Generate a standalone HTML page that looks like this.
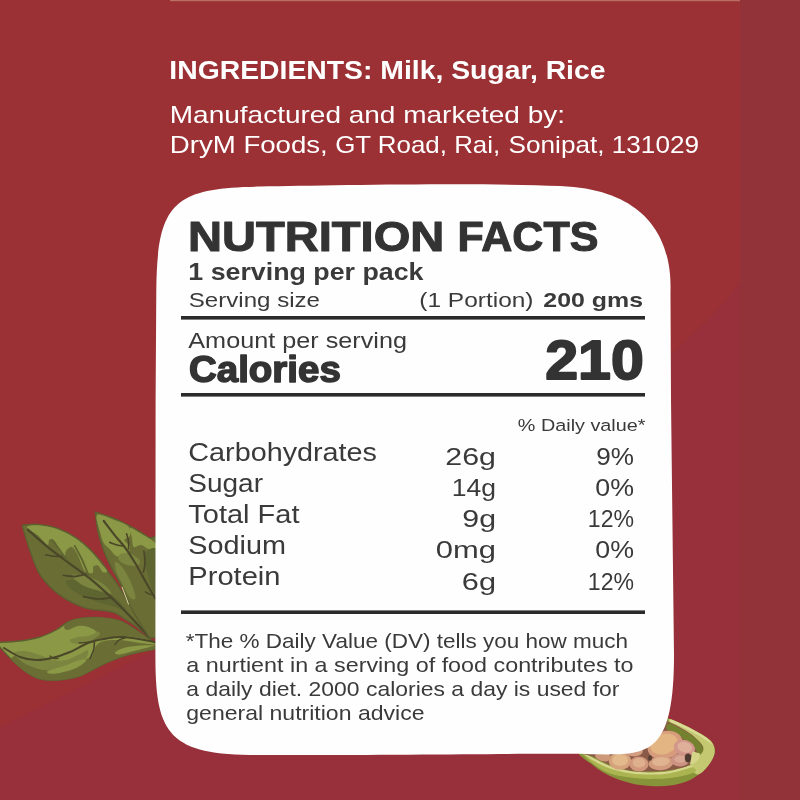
<!DOCTYPE html>
<html>
<head>
<meta charset="utf-8">
<title>Nutrition Facts</title>
<style>
html,body{margin:0;padding:0;width:800px;height:800px;overflow:hidden;background:#9b3134;}
svg{display:block;position:absolute;left:0;top:0;}
text{font-family:"Liberation Sans",sans-serif;}
.w{fill:#fff;}
.d{fill:#3a3a3a;}
.b{font-weight:bold;}
.h{font-weight:bold;stroke:#333;stroke-width:1.1px;fill:#333;stroke-linejoin:round;}
</style>
</head>
<body>
<svg width="800" height="800" viewBox="0 0 800 800">
  <!-- background -->
  <rect x="0" y="0" width="800" height="800" fill="#9b3134"/>
  <path d="M0,727.5 L155,650 L572,451 L671,354 Q712,319 740,283 L740,800 L0,800Z" fill="#97303b"/>
  <rect x="740" y="0" width="60" height="800" fill="#92333a"/>
  <rect x="170" y="0" width="570" height="1.2" fill="#bd6e64"/>

  <!-- leaves -->
  <g id="leaves">
    <path d="M-2.0,642.4 C1.7,642.2 13.0,641.9 20.0,641.0 C27.0,640.1 34.0,638.8 40.0,637.0 C46.0,635.2 51.3,632.5 56.0,630.0 C60.7,627.5 64.0,623.9 68.0,622.0 C72.0,620.1 74.7,619.1 80.0,618.4 C85.3,617.7 93.3,617.2 100.0,617.6 C106.7,618.0 114.0,618.9 120.0,621.0 C126.0,623.1 129.7,626.0 136.0,630.0 C142.3,634.0 154.3,642.5 158.0,645.0 L158.0,648.6 C155.0,649.2 145.7,650.8 140.0,652.0 C134.3,653.2 129.3,654.3 124.0,656.0 C118.7,657.7 112.7,660.0 108.0,662.0 C103.3,664.0 100.7,665.7 96.0,668.0 C91.3,670.3 86.0,674.0 80.0,676.0 C74.0,678.0 66.7,679.5 60.0,680.0 C53.3,680.5 45.7,680.3 40.0,679.0 C34.3,677.7 30.7,675.2 26.0,672.0 C21.3,668.8 16.7,664.5 12.0,660.0 C7.3,655.5 0.3,647.5 -2.0,645.0Z" fill="#8b9946" stroke="#5c6030" stroke-width="1.4" stroke-linecap="round" stroke-linejoin="round"/>
    <path d="M69.0,621.6 C71.7,620.2 74.8,619.1 80.0,618.4 C85.2,617.7 93.3,617.2 100.0,617.6 C106.7,618.0 114.0,618.9 120.0,621.0 C126.0,623.1 129.7,626.0 136.0,630.0 C142.3,634.0 154.3,642.8 158.0,645.0 C161.7,647.2 161.0,644.2 158.0,643.0 C155.0,641.8 145.7,639.1 140.0,638.0 C134.3,636.9 129.3,636.7 124.0,636.6 C118.7,636.5 112.7,636.9 108.0,637.6 C103.3,638.3 99.7,640.1 96.0,641.0 C92.3,641.9 89.0,642.8 86.0,643.0 C83.0,643.2 78.3,643.0 78.0,642.0 C77.7,641.0 81.3,638.7 84.0,637.0 C86.7,635.3 93.3,633.7 94.0,632.0 C94.7,630.3 90.7,628.0 88.0,627.0 C85.3,626.0 81.3,625.5 78.0,626.0 C74.7,626.5 70.3,629.8 68.0,630.0 C65.7,630.2 63.8,628.4 64.0,627.0 C64.2,625.6 66.3,623.0 69.0,621.6Z" fill="#6a6e35"/>
    <path d="M12.0,660.0 C13.7,662.7 21.3,668.8 26.0,672.0 C30.7,675.2 34.3,677.7 40.0,679.0 C45.7,680.3 53.3,680.5 60.0,680.0 C66.7,679.5 74.0,678.0 80.0,676.0 C86.0,674.0 91.3,670.3 96.0,668.0 C100.7,665.7 103.3,664.0 108.0,662.0 C112.7,660.0 118.7,657.7 124.0,656.0 C129.3,654.3 134.3,653.2 140.0,652.0 C145.7,650.8 155.0,649.8 158.0,648.6 C161.0,647.4 161.0,645.9 158.0,645.0 C155.0,644.1 146.3,643.8 140.0,643.0 C133.7,642.2 126.0,640.3 120.0,640.0 C114.0,639.7 108.0,640.0 104.0,641.0 C100.0,642.0 98.0,643.5 96.0,646.0 C94.0,648.5 94.0,653.7 92.0,656.0 C90.0,658.3 87.3,658.7 84.0,660.0 C80.7,661.3 76.0,662.8 72.0,664.0 C68.0,665.2 64.0,666.2 60.0,667.0 C56.0,667.8 52.0,669.0 48.0,669.0 C44.0,669.0 40.0,668.3 36.0,667.0 C32.0,665.7 27.3,662.8 24.0,661.0 C20.7,659.2 18.0,656.2 16.0,656.0 C14.0,655.8 10.3,657.3 12.0,660.0Z" fill="#6a6e35"/>
    <path d="M14.0,653.0 C14.7,651.5 19.7,650.7 24.0,651.0 C28.3,651.3 35.3,653.5 40.0,655.0 C44.7,656.5 47.7,659.2 52.0,660.0 C56.3,660.8 61.3,661.0 66.0,660.0 C70.7,659.0 76.3,655.7 80.0,654.0 C83.7,652.3 87.0,649.3 88.0,650.0 C89.0,650.7 88.0,655.7 86.0,658.0 C84.0,660.3 80.3,662.2 76.0,664.0 C71.7,665.8 65.3,668.0 60.0,669.0 C54.7,670.0 49.0,670.5 44.0,670.0 C39.0,669.5 34.0,667.7 30.0,666.0 C26.0,664.3 22.7,662.2 20.0,660.0 C17.3,657.8 13.3,654.5 14.0,653.0Z" fill="#7b853f"/>
    <path d="M48.0,671.0 C50.3,669.7 58.7,667.8 64.0,666.0 C69.3,664.2 76.3,660.8 80.0,660.0 C83.7,659.2 86.7,659.7 86.0,661.0 C85.3,662.3 80.3,666.0 76.0,668.0 C71.7,670.0 64.3,672.1 60.0,673.0 C55.7,673.9 52.0,673.9 50.0,673.6 C48.0,673.3 45.7,672.3 48.0,671.0Z" fill="#8b9946"/>
    <path d="M115.0,652.4 C115.8,651.3 119.8,649.1 124.0,648.0 C128.2,646.9 135.0,646.0 140.0,645.6 C145.0,645.2 154.0,644.9 154.0,645.6 C154.0,646.3 144.3,648.5 140.0,649.6 C135.7,650.7 131.5,651.6 128.0,652.4 C124.5,653.2 121.2,654.4 119.0,654.4 C116.8,654.4 114.2,653.5 115.0,652.4Z" fill="#8b9946"/>
    <path d="M70.0,640.0 C70.3,638.4 73.0,635.7 76.0,634.0 C79.0,632.3 84.0,630.2 88.0,630.0 C92.0,629.8 99.0,631.5 100.0,633.0 C101.0,634.5 96.7,637.3 94.0,639.0 C91.3,640.7 87.3,642.2 84.0,643.0 C80.7,643.8 76.3,644.1 74.0,643.6 C71.7,643.1 69.7,641.6 70.0,640.0Z" fill="#7b853f"/>
    <path d="M70.0,630.0 C72.3,628.6 76.7,626.7 80.0,626.4 C83.3,626.1 87.3,627.1 90.0,628.0 C92.7,628.9 96.3,630.7 96.0,632.0 C95.7,633.3 91.0,635.2 88.0,636.0 C85.0,636.8 81.0,636.5 78.0,637.0 C75.0,637.5 72.0,639.3 70.0,639.0 C68.0,638.7 66.0,636.5 66.0,635.0 C66.0,633.5 67.7,631.4 70.0,630.0Z" fill="#8b9946"/>
    <path d="M4.0,648.0 C6.7,649.5 14.7,655.0 20.0,657.0 C25.3,659.0 30.7,659.8 36.0,660.0 C41.3,660.2 46.3,659.3 52.0,658.0 C57.7,656.7 64.0,654.5 70.0,652.0 C76.0,649.5 82.3,645.2 88.0,643.0 C93.7,640.8 98.0,640.0 104.0,639.0 C110.0,638.0 115.0,636.4 124.0,637.0 C133.0,637.6 152.3,641.5 158.0,642.4" fill="none" stroke="#4b4729" stroke-width="2.0" stroke-linecap="round" stroke-linejoin="round"/>
    <path d="M94.4,642.0 C94.3,643.3 94.3,647.3 93.6,650.0 C92.9,652.7 90.6,657.0 90.0,658.4" fill="none" stroke="#4b4729" stroke-width="1.6" stroke-linecap="round" stroke-linejoin="round"/>
    <path d="M50.0,656.0 C50.6,656.4 52.3,658.0 53.6,658.4 C54.9,658.8 57.3,658.4 58.0,658.4" fill="none" stroke="#4b4729" stroke-width="1.4" stroke-linecap="round" stroke-linejoin="round"/>
    <path d="M79.0,643.0 C80.2,642.9 83.5,642.6 86.0,642.4 C88.5,642.2 92.7,641.7 94.0,641.6" fill="none" stroke="#4b4729" stroke-width="1.3" stroke-linecap="round" stroke-linejoin="round"/>
    <path d="M115.0,644.4 C115.7,643.7 117.3,641.1 119.0,640.0 C120.7,638.9 124.0,638.3 125.0,638.0" fill="none" stroke="#4b4729" stroke-width="1.4" stroke-linecap="round" stroke-linejoin="round"/>
    <path d="M22.2,525.3 C24.8,525.2 32.3,523.9 38.1,524.4 C43.9,524.8 50.6,525.9 56.9,528.1 C63.1,530.3 70.2,534.0 75.6,537.5 C81.1,541.0 85.3,544.9 89.7,549.1 C94.1,553.3 98.7,558.9 101.9,562.8 C105.1,566.8 106.3,568.9 109.0,572.8 C111.8,576.6 114.4,579.7 118.4,585.9 C122.3,592.0 127.6,601.0 132.8,609.7 C138.0,618.3 146.9,633.1 149.7,637.8 C147.7,636.1 141.4,630.5 137.5,627.5 C133.6,624.5 130.0,622.4 126.3,620.0 C122.5,617.6 118.8,614.4 115.0,612.9 C111.3,611.3 108.8,611.5 103.8,610.6 C98.8,609.8 91.3,609.7 85.0,607.8 C78.8,605.9 71.9,602.7 66.3,599.4 C60.6,596.1 55.9,592.8 51.3,588.1 C46.6,583.4 41.9,578.1 38.1,571.3 C34.4,564.4 31.4,554.5 28.8,546.9 C26.1,539.2 23.3,528.9 22.2,525.3Z" fill="#6a6e35" stroke="#5c6030" stroke-width="1.4" stroke-linecap="round" stroke-linejoin="round"/>
    <path d="M26.9,527.2 C26.9,525.5 33.1,525.0 38.1,525.3 C43.1,525.6 50.6,526.9 56.9,529.1 C63.1,531.3 70.2,534.9 75.6,538.4 C81.0,541.9 85.1,545.9 89.3,550.1 C93.6,554.2 98.2,559.9 101.1,563.4 C104.1,566.8 106.8,569.4 107.1,570.9 C107.4,572.3 104.3,573.1 102.8,572.2 C101.3,571.3 99.7,566.6 98.1,565.6 C96.6,564.7 94.4,565.3 93.4,566.6 C92.5,567.8 93.9,572.3 92.5,573.1 C91.1,573.9 86.9,572.8 85.0,571.3 C83.1,569.7 82.5,566.6 81.3,563.8 C80.0,560.9 79.1,557.2 77.5,554.4 C75.9,551.6 73.8,547.5 71.9,546.9 C70.0,546.3 67.5,549.1 66.3,550.6 C65.0,552.2 65.6,556.3 64.4,556.3 C63.1,556.3 60.3,553.1 58.8,550.6 C57.2,548.1 56.6,543.1 55.0,541.3 C53.4,539.4 50.6,538.8 49.4,539.4 C48.1,540.0 49.4,545.6 47.5,545.0 C45.6,544.4 41.6,538.6 38.1,535.6 C34.7,532.7 26.9,528.9 26.9,527.2Z" fill="#8b9946"/>
    <path d="M66.3,580.6 C68.1,579.4 75.9,579.4 81.3,580.6 C86.6,581.9 92.5,585.3 98.1,588.1 C103.8,590.9 110.3,593.8 115.0,597.5 C119.7,601.3 126.3,609.1 126.3,610.6 C126.3,612.2 119.7,608.3 115.0,606.9 C110.3,605.5 103.8,604.1 98.1,602.2 C92.5,600.3 85.9,598.0 81.3,595.6 C76.6,593.3 72.5,590.6 70.0,588.1 C67.5,585.6 64.4,581.9 66.3,580.6Z" fill="#5f6531"/>
    <path d="M71.9,575.0 C73.1,573.8 83.4,575.3 88.8,576.9 C94.1,578.4 100.0,581.6 103.8,584.4 C107.5,587.2 112.5,592.8 111.3,593.8 C110.0,594.7 101.3,591.6 96.3,590.0 C91.3,588.4 85.3,586.9 81.3,584.4 C77.2,581.9 70.6,576.3 71.9,575.0Z" fill="#7b853f"/>
    <path d="M27.8,529.6 C31.1,532.5 40.5,541.2 47.5,546.9 C54.5,552.6 62.5,558.1 70.0,563.8 C77.5,569.4 85.6,575.0 92.5,580.6 C99.4,586.3 105.0,591.6 111.3,597.5 C117.5,603.4 123.6,609.5 130.0,616.3 C136.4,623.0 146.4,634.2 149.7,637.8" fill="none" stroke="#4b4729" stroke-width="2.2" stroke-linecap="round" stroke-linejoin="round"/>
    <path d="M61.6,556.3 C60.3,556.3 56.7,556.5 54.1,556.3 C51.4,556.0 47.0,555.0 45.6,554.8" fill="none" stroke="#4b4729" stroke-width="1.6" stroke-linecap="round" stroke-linejoin="round"/>
    <path d="M85.9,574.1 C84.1,574.5 78.4,576.3 74.7,576.5 C70.9,576.7 65.3,575.6 63.4,575.4" fill="none" stroke="#4b4729" stroke-width="1.8" stroke-linecap="round" stroke-linejoin="round"/>
    <path d="M112.2,597.5 C109.8,597.8 102.9,599.2 98.1,599.0 C93.3,598.8 85.9,597.0 83.5,596.6" fill="none" stroke="#4b4729" stroke-width="1.6" stroke-linecap="round" stroke-linejoin="round"/>
    <path d="M66.3,559.6 C65.1,557.9 61.5,552.4 59.1,549.1 C56.8,545.8 53.3,541.3 52.2,539.8" fill="none" stroke="#5f6531" stroke-width="1.8" stroke-linecap="round" stroke-linejoin="round"/>
    <path d="M88.8,575.9 C87.7,573.3 84.5,565.0 82.2,560.0 C79.8,555.0 75.9,548.3 74.7,545.9" fill="none" stroke="#5f6531" stroke-width="1.8" stroke-linecap="round" stroke-linejoin="round"/>
    <path d="M95.3,512.2 C98.6,513.3 108.6,516.1 115.0,518.8 C121.4,521.4 128.1,525.0 133.8,528.1 C139.4,531.3 144.4,534.5 148.8,537.5 C153.1,540.5 158.1,529.2 160.0,545.9 C161.9,562.7 160.0,622.5 160.0,637.8 L149.7,637.8 C148.0,635.2 142.7,627.3 139.4,621.9 C136.1,616.4 133.1,611.3 130.0,605.0 C126.9,598.8 123.8,590.6 120.6,584.4 C117.5,578.1 114.1,573.1 111.3,567.5 C108.4,561.9 105.9,556.6 103.8,550.6 C101.6,544.7 99.5,538.3 98.1,531.9 C96.7,525.5 95.8,515.5 95.3,512.2Z" fill="#6a6e35" stroke="#5c6030" stroke-width="1.4" stroke-linecap="round" stroke-linejoin="round"/>
    <path d="M97.2,515.0 C99.7,513.1 109.8,518.4 115.0,520.3 C120.2,522.1 125.6,523.7 128.1,526.3 C130.6,528.8 130.6,533.3 130.0,535.6 C129.4,538.0 124.4,538.4 124.4,540.3 C124.4,542.2 129.7,544.5 130.0,546.9 C130.3,549.2 128.4,552.8 126.3,554.4 C124.1,555.9 119.7,557.2 116.9,556.3 C114.1,555.3 111.6,550.9 109.4,548.8 C107.2,546.6 105.3,545.9 103.8,543.1 C102.2,540.3 101.1,536.6 100.0,531.9 C98.9,527.2 94.7,516.9 97.2,515.0Z" fill="#8b9946"/>
    <path d="M130.0,528.1 C131.6,527.5 137.2,531.4 141.3,533.8 C145.3,536.1 151.6,539.7 154.4,542.2 C157.2,544.7 159.1,547.6 158.1,548.8 C157.2,549.9 151.6,549.8 148.8,549.1 C145.9,548.5 143.8,545.4 141.3,545.0 C138.8,544.6 135.3,548.1 133.8,546.9 C132.2,545.6 132.5,540.6 131.9,537.5 C131.3,534.4 128.4,528.8 130.0,528.1Z" fill="#8b9946"/>
    <path d="M119.7,554.4 C121.6,553.3 126.7,552.5 130.0,553.4 C133.3,554.4 138.1,558.0 139.4,560.0 C140.6,562.0 139.7,564.8 137.5,565.6 C135.3,566.4 129.4,565.6 126.3,564.7 C123.1,563.8 119.8,561.7 118.8,560.0 C117.7,558.3 117.8,555.5 119.7,554.4Z" fill="#7b853f"/>
    <path d="M115.0,561.9 C115.9,560.9 120.0,564.4 122.5,567.5 C125.0,570.6 127.8,575.6 130.0,580.6 C132.2,585.6 135.6,594.7 135.6,597.5 C135.6,600.3 132.2,599.7 130.0,597.5 C127.8,595.3 124.7,588.4 122.5,584.4 C120.3,580.3 118.1,576.9 116.9,573.1 C115.6,569.4 114.1,562.8 115.0,561.9Z" fill="#7b853f"/>
    <path d="M145.0,552.5 C147.3,550.6 155.6,543.8 158.1,550.6 C160.6,557.5 160.9,587.2 160.0,593.8 C159.1,600.3 154.5,593.1 152.5,590.0 C150.5,586.9 149.2,579.7 147.8,575.0 C146.4,570.3 144.5,565.6 144.1,561.9 C143.6,558.1 142.7,554.4 145.0,552.5Z" fill="#5f6531"/>
    <path d="M103.8,521.0 C105.6,523.4 111.4,531.2 115.0,535.6 C118.6,540.1 121.9,543.1 125.3,547.8 C128.8,552.5 132.3,558.3 135.6,563.8 C138.9,569.2 141.7,574.8 145.0,580.6 C148.3,586.4 153.6,595.5 155.3,598.4" fill="none" stroke="#4b4729" stroke-width="2.2" stroke-linecap="round" stroke-linejoin="round"/>
    <path d="M123.4,545.9 C122.3,545.8 119.2,545.6 116.9,545.0 C114.6,544.4 110.9,542.8 109.8,542.4" fill="none" stroke="#4b4729" stroke-width="1.7" stroke-linecap="round" stroke-linejoin="round"/>
    <path d="M128.5,549.1 C128.5,547.8 128.8,543.8 128.5,541.3 C128.2,538.7 126.9,535.0 126.6,533.8" fill="none" stroke="#4b4729" stroke-width="1.6" stroke-linecap="round" stroke-linejoin="round"/>
    <path d="M143.5,572.2 C143.8,570.5 144.9,565.4 145.0,561.9 C145.1,558.3 144.1,552.8 143.9,551.0" fill="none" stroke="#4b4729" stroke-width="1.6" stroke-linecap="round" stroke-linejoin="round"/>
    <path d="M154.4,595.3 C153.6,595.1 151.2,594.7 149.7,594.1 C148.2,593.6 146.1,592.3 145.4,591.9" fill="none" stroke="#4b4729" stroke-width="1.5" stroke-linecap="round" stroke-linejoin="round"/>
    <path d="M122.1,587.2 L128.5,604.1" fill="none" stroke="#d9cfa0" stroke-width="1.0" stroke-linecap="round" stroke-linejoin="round"/>
  </g>
  <!-- pod -->
  <g id="pod">
    <path d="M578.0,750.0 C575.3,754.3 588.7,761.7 594.0,766.0 C599.3,770.3 604.0,773.2 610.0,776.0 C616.0,778.8 623.3,781.3 630.0,783.0 C636.7,784.7 643.3,785.6 650.0,786.0 C656.7,786.4 663.3,786.6 670.0,785.6 C676.7,784.6 684.0,782.9 690.0,780.0 C696.0,777.1 701.9,772.3 706.0,768.0 C710.1,763.7 713.2,758.0 714.4,754.0 C715.6,750.0 714.4,746.8 713.0,744.0 C711.6,741.2 709.2,739.3 706.0,737.0 C702.8,734.7 698.0,732.2 694.0,730.0 C690.0,727.8 686.0,725.8 682.0,724.0 C678.0,722.2 674.0,720.3 670.0,719.0 C666.0,717.7 661.3,715.2 658.0,716.0 C654.7,716.8 658.0,720.0 650.0,724.0 C642.0,728.0 622.0,735.7 610.0,740.0 C598.0,744.3 580.7,745.7 578.0,750.0Z" fill="#87943a"/>
    <path d="M670.0,719.0 C672.0,719.3 678.0,722.2 682.0,724.0 C686.0,725.8 690.0,727.8 694.0,730.0 C698.0,732.2 702.8,734.7 706.0,737.0 C709.2,739.3 711.6,741.2 713.0,744.0 C714.4,746.8 715.2,750.3 714.4,754.0 C713.6,757.7 710.7,762.6 708.0,766.0 C705.3,769.4 701.0,774.2 698.0,774.4 C695.0,774.6 690.0,769.7 690.0,767.0 C690.0,764.3 695.7,761.2 698.0,758.0 C700.3,754.8 704.3,751.5 703.6,748.0 C702.9,744.5 697.6,740.2 694.0,737.0 C690.4,733.8 686.0,731.4 682.0,729.0 C678.0,726.6 672.0,724.1 670.0,722.4 C668.0,720.7 668.0,718.7 670.0,719.0Z" fill="#c4c870"/>
    <path d="M671.0,719.6 C672.8,720.0 678.2,722.6 682.0,724.4 C685.8,726.2 690.0,728.2 694.0,730.4 C698.0,732.6 702.9,735.3 706.0,737.6 C709.1,739.9 711.7,743.5 712.4,744.4 C713.1,745.3 712.4,744.6 710.0,743.0 C707.6,741.4 702.7,737.7 698.0,735.0 C693.3,732.3 686.5,729.2 682.0,727.0 C677.5,724.8 672.8,723.2 671.0,722.0 C669.2,720.8 669.2,719.2 671.0,719.6Z" fill="#dcdc98"/>
    <path d="M582.0,753.0 C582.3,752.3 591.3,757.7 596.0,760.0 C600.7,762.3 604.3,765.0 610.0,767.0 C615.7,769.0 623.3,770.9 630.0,772.0 C636.7,773.1 643.3,773.6 650.0,773.6 C656.7,773.6 663.3,773.1 670.0,772.0 C676.7,770.9 685.8,767.0 690.0,767.0 C694.2,767.0 697.7,770.2 695.0,772.0 C692.3,773.8 681.5,776.4 674.0,777.6 C666.5,778.8 657.3,779.0 650.0,779.0 C642.7,779.0 636.7,778.5 630.0,777.6 C623.3,776.7 616.0,775.8 610.0,773.6 C604.0,771.4 598.7,767.8 594.0,764.4 C589.3,761.0 581.7,753.7 582.0,753.0Z" fill="#aab450"/>
    <path d="M582.0,752.4 C582.2,752.0 591.3,756.9 596.0,759.2 C600.7,761.5 604.3,764.0 610.0,766.0 C615.7,768.0 623.3,769.9 630.0,771.0 C636.7,772.1 643.3,772.4 650.0,772.4 C656.7,772.4 663.3,772.1 670.0,771.0 C676.7,769.9 686.5,766.2 690.0,765.6 C693.5,765.0 694.1,766.3 690.8,767.6 C687.5,768.9 676.8,772.0 670.0,773.2 C663.2,774.4 656.7,774.6 650.0,774.6 C643.3,774.6 636.7,774.2 630.0,773.2 C623.3,772.2 615.8,770.3 610.0,768.4 C604.2,766.5 599.7,764.3 595.0,761.6 C590.3,758.9 581.8,752.8 582.0,752.4Z" fill="#d6d78c"/>
    <path d="M582.0,752.4 C581.0,754.6 589.3,754.9 594.0,757.0 C598.7,759.1 604.0,762.8 610.0,765.0 C616.0,767.2 623.3,769.3 630.0,770.4 C636.7,771.5 643.3,771.7 650.0,771.6 C656.7,771.5 663.3,771.2 670.0,770.0 C676.7,768.8 686.3,767.5 690.0,764.4 C693.7,761.3 690.7,753.4 692.4,751.6 C694.1,749.8 698.3,754.5 700.0,753.6 C701.7,752.7 703.8,749.3 702.8,746.4 C701.8,743.5 697.5,739.4 694.0,736.4 C690.5,733.4 686.0,730.7 682.0,728.4 C678.0,726.1 674.3,723.8 670.0,722.4 C665.7,721.0 662.7,718.7 656.0,720.0 C649.3,721.3 639.3,726.0 630.0,730.0 C620.7,734.0 608.0,740.3 600.0,744.0 C592.0,747.7 583.0,750.2 582.0,752.4Z" fill="#8a5a46"/>
    <path d="M668.8,723.6 C671.0,723.5 676.3,726.5 680.0,728.4 C683.7,730.3 687.8,732.5 691.2,735.0 C694.6,737.5 698.7,740.9 700.6,743.4 C702.5,745.9 703.0,748.2 702.8,750.0 C702.6,751.8 700.6,754.7 699.2,754.4 C697.8,754.1 696.7,750.3 694.4,748.0 C692.1,745.7 688.6,743.1 685.6,740.8 C682.6,738.5 679.3,735.9 676.2,734.0 C673.1,732.1 668.0,730.9 666.8,729.2 C665.6,727.5 666.6,723.7 668.8,723.6Z" fill="#74812f"/>
    <ellipse cx="665.0" cy="745.0" rx="18.0" ry="13.6" fill="#d79c7c" transform="rotate(-20 665.0 745.0)"/>
    <ellipse cx="664.0" cy="744.0" rx="14.0" ry="10.0" fill="#e2b582" transform="rotate(-20 664.0 744.0)"/>
    <ellipse cx="684.4" cy="748.0" rx="10.8" ry="8.0" fill="#d2978a" transform="rotate(15 684.4 748.0)"/>
    <ellipse cx="684.8" cy="747.2" rx="7.6" ry="5.2" fill="#deb09a" transform="rotate(15 684.8 747.2)"/>
    <ellipse cx="620.0" cy="761.0" rx="11.2" ry="8.8" fill="#d6a27c" transform="rotate(0 620.0 761.0)"/>
    <ellipse cx="620.0" cy="760.0" rx="8.0" ry="6.0" fill="#e2b98a" transform="rotate(0 620.0 760.0)"/>
    <ellipse cx="639.0" cy="764.0" rx="9.6" ry="7.6" fill="#d1987e" transform="rotate(0 639.0 764.0)"/>
    <ellipse cx="639.0" cy="762.8" rx="6.4" ry="4.8" fill="#deb08e" transform="rotate(0 639.0 762.8)"/>
    <ellipse cx="661.0" cy="763.0" rx="12.4" ry="7.2" fill="#d49c7e" transform="rotate(-5 661.0 763.0)"/>
    <ellipse cx="661.0" cy="761.6" rx="8.8" ry="4.4" fill="#e0b490" transform="rotate(-5 661.0 761.6)"/>
    <ellipse cx="680.0" cy="760.0" rx="9.2" ry="6.4" fill="#cd9382" transform="rotate(0 680.0 760.0)"/>
    <ellipse cx="680.4" cy="759.2" rx="6.0" ry="3.6" fill="#d9a894" transform="rotate(0 680.4 759.2)"/>
    <ellipse cx="603.0" cy="756.4" rx="8.0" ry="4.8" fill="#cd9878" transform="rotate(12 603.0 756.4)"/>
    <ellipse cx="634.0" cy="751.6" rx="8.8" ry="4.8" fill="#d29d80" transform="rotate(0 634.0 751.6)"/>
    <ellipse cx="688.0" cy="758.0" rx="3.2" ry="4.4" fill="#4d3a30" transform="rotate(0 688.0 758.0)"/>
    <ellipse cx="650.0" cy="758.0" rx="2.0" ry="2.8" fill="#5d4033" transform="rotate(0 650.0 758.0)"/>
    <path d="M692.4,751.6 C693.0,751.7 694.7,752.0 696.0,752.4 C697.3,752.8 699.7,752.7 700.0,754.0 C700.3,755.3 699.2,758.3 698.0,760.0 C696.8,761.7 694.3,763.3 693.0,764.0 C691.7,764.7 690.5,764.3 690.0,764.4Z" fill="#d5d58a"/>
  </g>

  <!-- card -->
  <path id="card" fill="#fefefe" d="M156.3,290 C157.2,203 173.5,187.5 260,186.6 C330,185.4 480,182.5 560,186 C678.4,190.7 670.35,280.1 670.5,295 L671,400 L674,655 C674,761.2 644.7,754.3 590,754.3 C540,752.8 400,755.5 250,755 C166.1,754.2 155.4,729.4 155.4,655 L155.6,400 Z"/>

  <!-- header text -->
  <text class="w b" x="169.3" y="79.3" font-size="26" textLength="436.2" lengthAdjust="spacingAndGlyphs">INGREDIENTS: Milk, Sugar, Rice</text>
  <text class="w" x="169.8" y="123" font-size="24.0" textLength="395.2" lengthAdjust="spacingAndGlyphs">Manufactured and marketed by:</text>
  <text class="w" y="152.6" font-size="24"><tspan x="169.8" textLength="158" lengthAdjust="spacingAndGlyphs">DryM Foods,</tspan> <tspan x="335.2" textLength="165" lengthAdjust="spacingAndGlyphs">GT Road, Rai,</tspan> <tspan x="508.6" textLength="190.4" lengthAdjust="spacingAndGlyphs">Sonipat, 131029</tspan></text>

  <!-- card text -->
  <text class="h" y="250.6" font-size="43"><tspan x="187.9" textLength="256.5" lengthAdjust="spacingAndGlyphs">NUTRITION</tspan> <tspan x="457.4" textLength="141" lengthAdjust="spacingAndGlyphs">FACTS</tspan></text>
  <text class="d b" x="188.3" y="280" font-size="24.0" textLength="235.2" lengthAdjust="spacingAndGlyphs">1 serving per pack</text>
  <text class="d" x="188.8" y="306.7" font-size="19.9" textLength="131.2" lengthAdjust="spacingAndGlyphs">Serving size</text>
  <text class="d" x="419.3" y="306.7" font-size="19.9" textLength="114.2" lengthAdjust="spacingAndGlyphs">(1 Portion)</text>
  <text class="d b" x="543.3" y="306.7" font-size="19.9" textLength="99.7" lengthAdjust="spacingAndGlyphs">200 gms</text>
  <rect x="181" y="316" width="464" height="3.6" fill="#2b2b2b"/>
  <text class="d" x="188.3" y="348" font-size="21.4" textLength="218.7" lengthAdjust="spacingAndGlyphs">Amount per serving</text>
  <text class="h" style="stroke-width:1.5px" x="189" y="381.7" font-size="36.3" textLength="151.8" lengthAdjust="spacingAndGlyphs">Calories</text>
  <text class="h" style="stroke-width:1.9px" x="545.2" y="379" font-size="55" textLength="98.6" lengthAdjust="spacingAndGlyphs">210</text>
  <rect x="181" y="393" width="464" height="3.6" fill="#2b2b2b"/>
  <text class="d" x="517.8" y="431" font-size="16.7" textLength="127.7" lengthAdjust="spacingAndGlyphs">% Daily value*</text>

  <text class="d" x="188.3" y="460.6" font-size="25.1" textLength="188.7" lengthAdjust="spacingAndGlyphs">Carbohydrates</text>
  <text class="d" x="188.3" y="491.9" font-size="25.1" textLength="74.7" lengthAdjust="spacingAndGlyphs">Sugar</text>
  <text class="d" x="188.3" y="523" font-size="25.1" textLength="111.2" lengthAdjust="spacingAndGlyphs">Total Fat</text>
  <text class="d" x="188.3" y="553.8" font-size="25.1" textLength="97.7" lengthAdjust="spacingAndGlyphs">Sodium</text>
  <text class="d" x="188.3" y="585" font-size="25.1" textLength="92.2" lengthAdjust="spacingAndGlyphs">Protein</text>

  <text class="d" x="445.3" y="464.7" font-size="24.6" textLength="50.7" lengthAdjust="spacingAndGlyphs">26g</text>
  <text class="d" x="451.8" y="496" font-size="24.6" textLength="44.2" lengthAdjust="spacingAndGlyphs">14g</text>
  <text class="d" x="462.3" y="527" font-size="24.6" textLength="33.7" lengthAdjust="spacingAndGlyphs">9g</text>
  <text class="d" x="435.8" y="558.4" font-size="24.6" textLength="60.2" lengthAdjust="spacingAndGlyphs">0mg</text>
  <text class="d" x="461.8" y="589.7" font-size="24.6" textLength="34.2" lengthAdjust="spacingAndGlyphs">6g</text>

  <text class="d" x="596.3" y="464.7" font-size="24.6" textLength="37.7" lengthAdjust="spacingAndGlyphs">9%</text>
  <text class="d" x="595.3" y="496" font-size="24.6" textLength="38.7" lengthAdjust="spacingAndGlyphs">0%</text>
  <text class="d" x="587.8" y="527" font-size="24.6" textLength="46.2" lengthAdjust="spacingAndGlyphs">12%</text>
  <text class="d" x="595.3" y="558.4" font-size="24.6" textLength="38.7" lengthAdjust="spacingAndGlyphs">0%</text>
  <text class="d" x="587.8" y="589.7" font-size="24.6" textLength="46.2" lengthAdjust="spacingAndGlyphs">12%</text>

  <rect x="181" y="610.4" width="464" height="3.6" fill="#2b2b2b"/>

  <text class="d" x="185.8" y="647.5" font-size="20.3" textLength="442.2" lengthAdjust="spacingAndGlyphs">*The % Daily Value (DV) tells you how much</text>
  <text class="d" x="186.3" y="672" font-size="20.3" textLength="447.2" lengthAdjust="spacingAndGlyphs">a nurtient in a serving of food contributes to</text>
  <text class="d" x="186.3" y="696.2" font-size="20.3" textLength="433.2" lengthAdjust="spacingAndGlyphs">a daily diet. 2000 calories a day is used for</text>
  <text class="d" x="186.3" y="720.3" font-size="20.3" textLength="238.2" lengthAdjust="spacingAndGlyphs">general nutrition advice</text>
</svg>
</body>
</html>
